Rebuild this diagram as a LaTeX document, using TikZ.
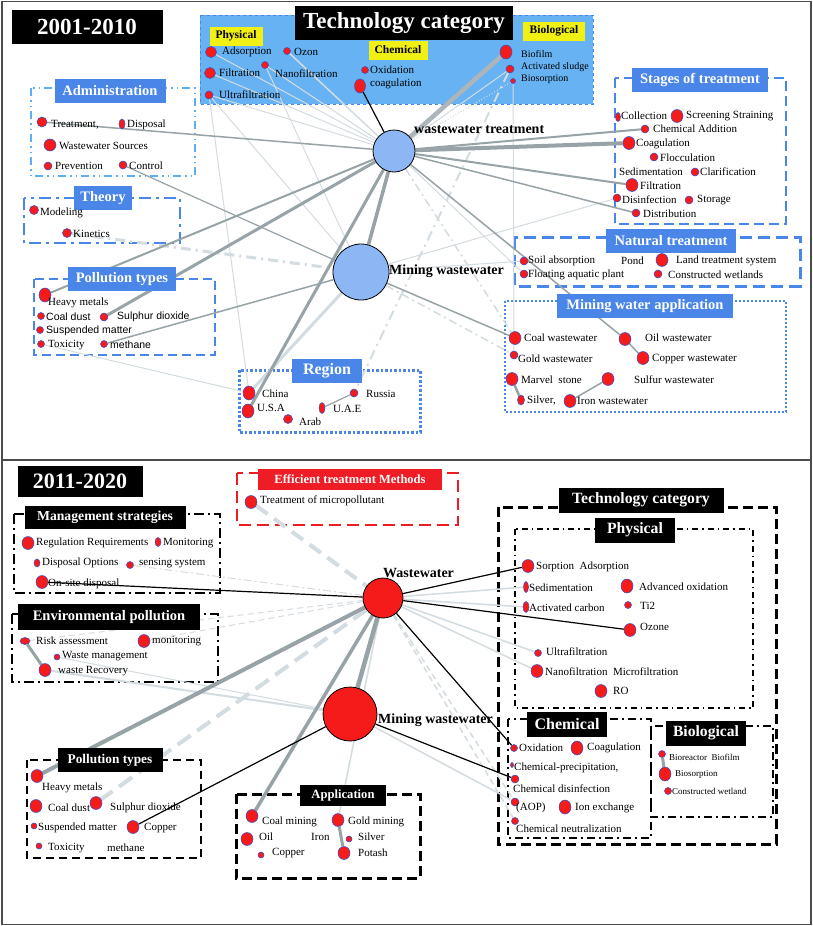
\documentclass[tikz,border=0pt]{standalone}
\usepackage{fontspec}
\setmainfont{Liberation Serif}
\newfontfamily\sansfam{Liberation Sans}
\usetikzlibrary{shapes.geometric,positioning}
\definecolor{dotred}{HTML}{F51B1B}
\definecolor{dotblue}{HTML}{3050D0}
\definecolor{titleblue}{HTML}{4A86E8}
\definecolor{techfill}{HTML}{66B2F2}
\definecolor{nodeblue}{HTML}{8DB6F5}
\definecolor{edgegray}{HTML}{97A3A7}
\definecolor{edgelight}{HTML}{D3DCE0}
\definecolor{markyellow}{HTML}{F0F014}
\definecolor{adminblue}{HTML}{5EAEF2}
\definecolor{efficientred}{HTML}{EE1C24}
\pgfdeclarelayer{boxes}
\pgfdeclarelayer{edges}
\pgfsetlayers{boxes,edges,main}
\tikzset{
  rdot/.style={circle, draw=dotblue, line width=0.5pt, fill=dotred, inner sep=0pt, minimum size=#1},
  edot/.style 2 args={ellipse, draw=dotblue, line width=0.5pt, fill=dotred, inner sep=0pt, minimum width=#1, minimum height=#2},
  lbl/.style={anchor=west, inner sep=0pt, font=\fontsize{11}{12}\selectfont},
  slbl/.style={anchor=west, inner sep=0pt, font=\sansfam\fontsize{10.5}{12}\selectfont},
  smalllbl/.style={anchor=west, inner sep=0pt, font=\fontsize{10}{11}\selectfont},
  bluetitle/.style={fill=titleblue, text=white, inner sep=0pt, minimum height=24pt, font=\bfseries\fontsize{14.5}{16}\selectfont},
  blacktitle/.style={fill=black, text=white, inner sep=0pt, minimum height=24pt, font=\bfseries\fontsize{14.5}{16}\selectfont},
  yellowtag/.style={fill=markyellow, inner sep=0pt, minimum height=19pt, font=\bfseries\fontsize{11.5}{12}\selectfont},
  hubblue/.style={circle, draw=black, line width=0.8pt, fill=nodeblue, inner sep=0pt, minimum size=#1},
  hubred/.style={circle, draw=black, line width=0.8pt, fill=dotred, inner sep=0pt, minimum size=#1},
  hublbl/.style={anchor=west, inner sep=0pt, font=\bfseries\fontsize{14}{15}\selectfont},
  grayedge/.style={draw=edgegray, line width=#1},
  faintedge/.style={draw=edgelight, line width=#1},
  blackedge/.style={draw=black, line width=1.2pt},
}
\begin{document}
\begin{tikzpicture}[x=1pt,y=-1pt]
\useasboundingbox (0,0) rectangle (813,926);
\begin{pgfonlayer}{boxes}
\fill[white] (0,0) rectangle (813,926);
\end{pgfonlayer}
\draw[gray!60!black, line width=1.2pt] (2,1.5) rectangle (811,924.5);
\draw[gray!60!black, line width=1.2pt] (2,460) -- (811,460);

% ---------------- 2001-2010 ----------------
\node (period1) at (87,27) [blacktitle, minimum width=151pt, minimum height=34pt, font=\bfseries\fontsize{23}{24}\selectfont] {2001-2010};

\node (techtitle) at (404,23) [blacktitle, minimum width=218pt, minimum height=34pt, font=\bfseries\fontsize{23}{24}\selectfont] {Technology category};
\node (physTag) at (236,36) [yellowtag, minimum width=53pt] {Physical};
\node (chemTag) at (398,50) [yellowtag, minimum width=59pt] {Chemical};
\node (bioTag) at (554,31) [yellowtag, minimum width=62pt] {Biological};

\node (adsorp) at (211,52) [rdot=11pt] {};
\node at (222,52) [lbl] {Adsorption};
\node (ozon) at (287,51) [rdot=7pt] {};
\node at (294,52) [lbl] {Ozon};
\node (filtr) at (210,73) [rdot=11pt] {};
\node at (219,73) [lbl] {Filtration};
\node (nanof) at (265,65) [rdot=7pt] {};
\node at (275,74) [lbl] {Nanofiltration};
\node (ultraf) at (209,95) [rdot=8pt] {};
\node at (219,95) [lbl] {Ultrafiltration};
\node (oxid) at (365,70) [rdot=7pt] {};
\node at (370,70) [lbl] {Oxidation};
\node (coag) at (360,86) [edot={11pt}{14pt}] {};
\node at (370,84) [lbl] {coagulation};
\node (biofilm) at (506,52) [edot={12pt}{14pt}] {};
\node at (521,54) [smalllbl] {Biofilm};
\node (actsl) at (510,69) [rdot=8pt] {};
\node at (521,67) [smalllbl] {Activated sludge};
\node (biosorp) at (513,81) [rdot=5pt] {};
\node at (521,79) [smalllbl] {Biosorption};

\node (wt) at (394,151) [hubblue=42pt] {};
\node at (414,130) [hublbl] {wastewater treatment};
\node (mw) at (361,272) [hubblue=56pt] {};
\node at (389,271) [hublbl] {Mining wastewater};

\node (adminTitle) at (110,91) [bluetitle, minimum width=111pt] {Administration};
\node (treat) at (42,122) [rdot=10pt] {};
\node at (51,125) [lbl] {Treatment,};
\node (dispos) at (122,124) [edot={6pt}{10pt}] {};
\node at (127,125) [lbl] {Disposal};
\node (wwsrc) at (50,145) [rdot=12pt] {};
\node at (59,146) [lbl] {Wastewater Sources};
\node (prev) at (48,166) [rdot=8pt] {};
\node at (55,166) [lbl] {Prevention};
\node (contr) at (123,165) [rdot=8pt] {};
\node at (129,166) [lbl] {Control};

\node (theoryTitle) at (103,198) [bluetitle, minimum width=58pt] {Theory};
\node (model) at (34,210) [rdot=9pt] {};
\node at (40,213) [lbl] {Modeling};
\node (kinet) at (67,233) [rdot=9pt] {};
\node at (73,234) [lbl] {Kinetics};

\node (pollTitle) at (122,279) [bluetitle, minimum width=108pt] {Pollution types};
\node (heavy) at (45,295) [edot={12pt}{14pt}] {};
\node at (48,303) [lbl] {Heavy metals};
\node (coald) at (41,316) [rdot=7pt] {};
\node at (46,317) [slbl] {Coal dust};
\node (sulph) at (104,317) [rdot=8pt] {};
\node at (117,317) [slbl] {Sulphur dioxide};
\node (susp) at (40,330) [rdot=7pt] {};
\node at (46,331) [slbl] {Suspended matter};
\node (toxic) at (41,344) [rdot=7pt] {};
\node at (48,345) [lbl] {Toxicity};
\node (methane) at (104,344) [rdot=7pt] {};
\node at (110,345) [slbl] {methane};

\node (regionTitle) at (327,371) [bluetitle, minimum width=70pt, font=\bfseries\fontsize{16}{17}\selectfont] {Region};
\node (china) at (249,393) [edot={12pt}{14pt}] {};
\node at (262,394) [lbl] {China};
\node (usa) at (248,411) [edot={12pt}{14pt}] {};
\node at (257,408) [lbl] {U.S.A};
\node (arab) at (288,419) [rdot=9pt] {};
\node at (299,422) [lbl] {Arab};
\node (uae) at (322,408) [edot={6pt}{11pt}] {};
\node at (333,409) [lbl] {U.A.E};
\node (russia) at (354,393) [rdot=8pt] {};
\node at (366,394) [lbl] {Russia};

\node (stagesTitle) at (700,80) [bluetitle, minimum width=136pt] {Stages of treatment};
\node (collect) at (618,117) [edot={5pt}{9pt}] {};
\node at (621,116) [lbl] {Collection};
\node (screen) at (677,116) [edot={12pt}{13pt}] {};
\node at (686,116) [lbl] {Screening Straining};
\node (chemadd) at (645,129) [rdot=8pt] {};
\node at (653,129) [lbl] {Chemical Addition};
\node (coagS) at (629,143) [edot={12pt}{13pt}] {};
\node at (636,144) [lbl] {Coagulation};
\node (flocc) at (654,157) [rdot=8pt] {};
\node at (660,158) [lbl] {Flocculation};
\node at (619,172) [lbl] {Sedimentation};
\node (clarif) at (695,172) [rdot=8pt] {};
\node at (700,172) [lbl] {Clarification};
\node (filtS) at (632,185) [edot={12pt}{13pt}] {};
\node at (640,186) [lbl] {Filtration};
\node (disinf) at (617,198) [rdot=8pt] {};
\node at (622,200) [lbl] {Disinfection};
\node (storage) at (689,200) [rdot=8pt] {};
\node at (697,200) [lbl] {Storage};
\node (distrib) at (636,213) [rdot=8pt] {};
\node at (643,214) [lbl] {Distribution};

\node (naturalTitle) at (671,241) [bluetitle, minimum width=130pt] {Natural treatment};
\node (soil) at (524,261) [rdot=8pt] {};
\node at (528,261) [lbl] {Soil absorption};
\node at (621,261) [lbl] {Pond};
\node (land) at (662,260) [edot={12pt}{13pt}] {};
\node at (676,261) [lbl] {Land treatment system};
\node (float) at (524,274) [rdot=8pt] {};
\node at (528,275) [lbl] {Floating aquatic plant};
\node (constr) at (658,274) [rdot=8pt] {};
\node at (668,275) [lbl] {Constructed wetlands};

\node (appTitle) at (645,306) [bluetitle, minimum width=176pt] {Mining water application};
\node (coalww) at (515,338) [edot={12pt}{13pt}] {};
\node at (524,338) [lbl] {Coal wastewater};
\node (oilww) at (625,339) [edot={12pt}{13pt}] {};
\node at (645,338) [lbl] {Oil wastewater};
\node (goldww) at (514,355) [rdot=8pt] {};
\node at (518,359) [lbl] {Gold wastewater};
\node (copww) at (643,358) [edot={12pt}{13pt}] {};
\node at (652,359) [lbl] {Copper wastewater};
\node (marvel) at (512,379) [edot={12pt}{13pt}] {};
\node at (521,380) [lbl] {Marvel\ \ stone};
\node (sulfww) at (608,379) [edot={12pt}{13pt}] {};
\node at (634,380) [lbl] {Sulfur wastewater};
\node (silver) at (521,400) [edot={7pt}{10pt}] {};
\node at (527,401) [lbl] {Silver,};
\node (ironww) at (570,401) [edot={12pt}{13pt}] {};
\node at (577,401) [lbl] {Iron wastewater};

\begin{pgfonlayer}{boxes}
\draw[titleblue, fill=techfill, dashed, line width=0.8pt] (200,15) rectangle (593,104);
\draw[adminblue, line width=1.8pt, dash pattern=on 8pt off 4pt on 1.5pt off 4pt on 1.5pt off 4pt] (31,88) rectangle (195,176);
\draw[titleblue, line width=2.5pt, dash pattern=on 12pt off 5pt on 3pt off 5pt] (24,198) rectangle (180,243);
\draw[titleblue, line width=1.5pt, dash pattern=on 9pt off 5pt] (34,279) rectangle (215,355);
\draw[titleblue, line width=3pt, dash pattern=on 2.5pt off 2pt] (239,370) rectangle (420,432);
\draw[titleblue, line width=1.5pt, dash pattern=on 10pt off 5pt] (615,78) rectangle (786,224);
\draw[titleblue, line width=3pt, dash pattern=on 12pt off 6pt] (514,237) rectangle (800,286);
\draw[titleblue, line width=2pt, dash pattern=on 2pt off 2pt] (505,301) rectangle (786,412);
\end{pgfonlayer}

\begin{pgfonlayer}{edges}
\draw[faintedge=1pt] (adsorp) -- (wt);
\draw[faintedge=1.5pt] (ozon) -- (wt);
\draw[faintedge=1pt] (nanof) -- (wt);
\draw[faintedge=1pt] (filtr) -- (wt);
\draw[faintedge=1pt] (ultraf) -- (wt);
\draw[faintedge=1pt] (ultraf) -- (mw);
\draw[faintedge=1pt] (nanof) -- (mw);
\draw[faintedge=1pt] (ultraf) -- (china);
\draw[faintedge=1pt] (actsl) -- (wt);
\draw[faintedge=1pt, dotted] (biosorp) -- (wt);
\draw[faintedge=1pt] (biosorp) -- (goldww);
\draw[faintedge=2pt, dash pattern=on 10pt off 5pt on 2pt off 5pt] (actsl) -- (russia);
\draw[faintedge=1pt] (disinf) -- (mw);
\draw[faintedge=1pt] (soil) -- (mw);
\draw[faintedge=1pt] (toxic) -- (china);
\draw[faintedge=3pt, dash pattern=on 10pt off 5pt on 2pt off 5pt] (kinet) -- (mw);
\draw[faintedge=1.5pt, dash pattern=on 8pt off 4pt on 2pt off 4pt] (mw) -- (goldww);
\draw[faintedge=1.5pt, dash pattern=on 8pt off 4pt on 2pt off 4pt] (wt) -- (coalww);
\draw[faintedge=1pt] (wt) -- (float);
\draw[faintedge=3pt] (china) -- (mw);
\draw[grayedge=4.5pt, draw=edgegray!80] (wt) -- (biofilm);
\draw[blackedge] (wt) -- (coag);
\draw[grayedge=1.5pt] (wt) -- (treat);
\draw[grayedge=2pt] (wt) -- (chemadd);
\draw[grayedge=4pt] (wt) -- (coagS);
\draw[grayedge=2pt] (wt) -- (filtS);
\draw[grayedge=1.5pt] (wt) -- (distrib);
\draw[grayedge=3.5pt] (wt) -- (mw);
\draw[grayedge=2pt] (wt) -- (heavy);
\draw[grayedge=3pt] (wt) -- (sulph);
\draw[grayedge=3pt] (wt) -- (usa);
\draw[grayedge=1.5pt] (wt) -- (oilww);
\draw[grayedge=1.5pt] (mw) -- (coalww);
\draw[grayedge=1.5pt] (mw) -- (methane);
\draw[grayedge=1.2pt] (mw) -- (contr);
\draw[grayedge=1.5pt] (oilww) -- (copww);
\draw[grayedge=2.5pt] (marvel) -- (silver);
\draw[grayedge=1.5pt] (sulfww) -- (ironww);
\draw[grayedge=1.2pt] (uae) -- (russia);
\end{pgfonlayer}

% ---------------- 2011-2020 ----------------
\node (period2) at (80,481) [blacktitle, minimum width=125pt, minimum height=31pt, font=\bfseries\fontsize{22}{23}\selectfont] {2011-2020};

\node (ww) at (383,598) [hubred=40pt] {};
\node at (383,573) [hublbl] {Wastewater};
\node (mw2) at (350,714) [hubred=54pt] {};
\node at (378,720) [hublbl] {Mining wastewater};

\node (mgmtTitle) at (105,517) [blacktitle, minimum width=161pt, minimum height=23pt, font=\bfseries\fontsize{13.7}{15}\selectfont] {Management strategies};
\node (regul) at (28,543) [edot={12pt}{13pt}] {};
\node at (36,543) [lbl] {Regulation Requirements};
\node (monit) at (158,542) [edot={6pt}{9pt}] {};
\node at (163,543) [lbl] {Monitoring};
\node (dispop) at (37,563) [edot={6pt}{8pt}] {};
\node at (42,563) [lbl] {Disposal Options};
\node (sensing) at (130,565) [rdot=7pt] {};
\node at (139,563) [lbl] {sensing system};
\node (onsite) at (42,582) [edot={12pt}{13pt}] {};
\node at (48,584) [lbl] {On-site disposal};

\node (envTitle) at (109,617) [blacktitle, minimum width=182pt, minimum height=26pt] {Environmental pollution};
\node (risk) at (25,641) [edot={10pt}{7pt}] {};
\node at (36,641) [lbl] {Risk assessment};
\node (monit2) at (144,641) [edot={12pt}{13pt}] {};
\node at (152,641) [lbl] {monitoring};
\node (wastem) at (57,657) [rdot=6pt] {};
\node at (62,656) [lbl] {Waste management};
\node (wasterec) at (45,670) [edot={12pt}{13pt}] {};
\node at (58,671) [lbl] {waste Recovery};

\node (effTitle) at (350,479) [fill=efficientred, text=white, inner sep=0pt, minimum width=184pt, minimum height=21pt, font=\bfseries\fontsize{12.5}{13}\selectfont] {Efficient treatment Methods};
\node (micro) at (251,502) [edot={12pt}{13pt}] {};
\node at (260,501) [lbl] {Treatment of micropollutant};

\node (tech2Title) at (641,500) [blacktitle, minimum width=165pt, minimum height=25pt, font=\bfseries\fontsize{15.7}{17}\selectfont] {Technology category};
\node (phys2Title) at (635,530) [blacktitle, minimum width=80pt, minimum height=25pt, font=\bfseries\fontsize{15.7}{17}\selectfont] {Physical};
\node (sorp) at (528,566) [edot={12pt}{13pt}] {};
\node at (536,567) [lbl] {Sorption\ \ Adsorption};
\node (sedim) at (526,587) [edot={5pt}{11pt}] {};
\node at (529,588) [lbl] {Sedimentation};
\node (advox) at (627,586) [edot={12pt}{14pt}] {};
\node at (639,587) [lbl] {Advanced oxidation};
\node (actcarb) at (526,607) [edot={6pt}{11pt}] {};
\node at (529,608) [lbl] {Activated carbon};
\node (ti2) at (628,605) [rdot=7pt] {};
\node at (640,606) [lbl] {Ti2};
\node (ozone) at (630,630) [edot={12pt}{13pt}] {};
\node at (640,627) [lbl] {Ozone};
\node (ultra2) at (538,653) [rdot=7pt] {};
\node at (546,652) [lbl] {Ultrafiltration};
\node (nano2) at (537,671) [edot={12pt}{13pt}] {};
\node at (545,672) [lbl] {Nanofiltration\ \ Microfiltration};
\node (ro) at (601,691) [edot={12pt}{13pt}] {};
\node at (613,691) [lbl] {RO};

\node (chem2Title) at (567,724) [blacktitle, minimum width=80pt, minimum height=25pt, font=\bfseries\fontsize{16}{17}\selectfont] {Chemical};
\node (oxid2) at (514,748) [rdot=7pt] {};
\node at (519,748) [lbl] {Oxidation};
\node (coag2) at (577,748) [edot={12pt}{14pt}] {};
\node at (587,748) [lbl] {Coagulation};
\node (precip) at (512,765) [edot={3pt}{5pt}] {};
\node at (514,768) [lbl] {Chemical-precipitation,};
\node (disinf2) at (515,779) [rdot=8pt] {};
\node at (513,789) [lbl] {Chemical disinfection};
\node (aop) at (515,802) [rdot=8pt] {};
\node at (516,808) [lbl] {(AOP)};
\node (ionex) at (565,807) [edot={12pt}{14pt}] {};
\node at (575,808) [lbl] {Ion exchange};
\node (neutral) at (515,821) [rdot=7pt] {};
\node at (516,829) [lbl] {Chemical neutralization};

\node (bio2Title) at (706,733) [blacktitle, minimum width=80pt, minimum height=25pt, font=\bfseries\fontsize{15.6}{17}\selectfont] {Biological};
\node (biorea) at (662,754) [rdot=7pt] {};
\node at (669,757) [smalllbl, font=\fontsize{9}{10}\selectfont] {Bioreactor\ \ Biofilm};
\node (biosor2) at (665,774) [edot={12pt}{14pt}] {};
\node at (675,774) [smalllbl, font=\fontsize{9}{10}\selectfont] {Biosorption};
\node (conwet) at (668,791) [rdot=7pt] {};
\node at (672,791) [smalllbl, font=\fontsize{9}{10}\selectfont] {Constructed wetland};

\node (poll2Title) at (110,760) [blacktitle, minimum width=105pt, minimum height=24pt, font=\bfseries\fontsize{13.3}{15}\selectfont] {Pollution types};
\node (heavy2) at (37,776) [edot={12pt}{13pt}] {};
\node at (42,788) [lbl] {Heavy metals};
\node (coal2) at (36,806) [edot={12pt}{13pt}] {};
\node at (48,808) [lbl] {Coal dust};
\node (sulph2) at (96,803) [edot={12pt}{13pt}] {};
\node at (110,808) [lbl] {Sulphur dioxide};
\node (susp2) at (34,826) [rdot=6pt] {};
\node at (38,828) [lbl] {Suspended matter};
\node (copper2) at (133,827) [edot={12pt}{13pt}] {};
\node at (144,828) [lbl] {Copper};
\node (toxic2) at (39,846) [rdot=6pt] {};
\node at (48,848) [lbl] {Toxicity};
\node at (107,848) [lbl] {methane};

\node (appl2Title) at (343,795) [blacktitle, minimum width=86pt, minimum height=21pt, font=\bfseries\fontsize{12.6}{14}\selectfont] {Application};
\node (coalm) at (252,816) [edot={12pt}{13pt}] {};
\node at (262,822) [lbl] {Coal mining};
\node (goldm) at (338,820) [edot={12pt}{13pt}] {};
\node at (348,822) [lbl] {Gold mining};
\node (oil2) at (247,839) [edot={12pt}{13pt}] {};
\node at (259,837) [lbl] {Oil};
\node at (311,837) [lbl] {Iron};
\node (silver2) at (349,839) [rdot=6pt] {};
\node at (358,837) [lbl] {Silver};
\node (copper3) at (261,855) [rdot=6pt] {};
\node at (272,853) [lbl] {Copper};
\node (potash) at (344,853) [edot={12pt}{13pt}] {};
\node at (358,853) [lbl] {Potash};

\begin{pgfonlayer}{boxes}
\draw[black, line width=1.8pt, dash pattern=on 10pt off 4pt on 2pt off 4pt] (14,514) rectangle (220,593);
\draw[black, line width=1.8pt, dash pattern=on 10pt off 4pt on 2pt off 4pt] (12,614) rectangle (218,682);
\draw[efficientred, line width=2.5pt, dash pattern=on 12pt off 6pt] (237,473) rectangle (458,525);
\draw[black, line width=3pt, dash pattern=on 10pt off 5pt] (498,507) rectangle (776,844);
\draw[black, line width=1.3pt, dash pattern=on 6pt off 4pt on 1.5pt off 4pt] (515,529) rectangle (753,708);
\draw[black, line width=1.8pt, dash pattern=on 8pt off 4pt on 2pt off 4pt] (508,719) rectangle (651,838);
\draw[black, line width=1.8pt, dash pattern=on 8pt off 4pt on 2pt off 4pt] (651,726) rectangle (773,817);
\draw[black, line width=1.8pt, dash pattern=on 8pt off 5pt] (27,760) rectangle (201,858);
\draw[black, line width=3pt, dash pattern=on 10pt off 5pt] (236,794) rectangle (420,878);
\end{pgfonlayer}

\begin{pgfonlayer}{edges}
\draw[faintedge=4pt, dash pattern=on 14pt off 8pt] (micro) -- (ww);
\draw[faintedge=4pt, dash pattern=on 16pt off 8pt] (ww) -- (sulph2);
\draw[faintedge=1pt, dash pattern=on 8pt off 3pt on 2pt off 3pt] (ww) -- (sensing);
\draw[faintedge=1pt, dash pattern=on 6pt off 4pt] (ww) -- (risk);
\draw[faintedge=1pt, dash pattern=on 6pt off 4pt] (ww) -- (monit2);
\draw[faintedge=2pt] (mw2) -- (wasterec);
\draw[faintedge=1pt] (mw2) -- (wastem);
\draw[faintedge=1.5pt] (ww) -- (sedim);
\draw[faintedge=1.5pt] (ww) -- (actcarb);
\draw[faintedge=1.5pt] (ww) -- (ultra2);
\draw[faintedge=1.5pt] (ww) -- (nano2);
\draw[faintedge=1.5pt, dash pattern=on 6pt off 4pt] (ww) -- (aop);
\draw[faintedge=1.5pt, dash pattern=on 6pt off 4pt] (ww) -- (neutral);
\draw[faintedge=1.5pt] (mw2) -- (aop);
\draw[faintedge=1.5pt] (ww) -- (goldm);
\draw[grayedge=4pt] (ww) -- (heavy2);
\draw[grayedge=3.5pt] (ww) -- (coalm);
\draw[grayedge=4.5pt] (ww) -- (mw2);
\draw[grayedge=3pt] (goldm) -- (potash);
\draw[grayedge=3pt] (risk) -- (wasterec);
\draw[grayedge=3pt] (biorea) -- (biosor2);
\draw[blackedge] (ww) -- (onsite);
\draw[blackedge] (ww) -- (sorp);
\draw[blackedge] (ww) -- (ozone);
\draw[blackedge] (ww) -- (oxid2);
\draw[blackedge] (mw2) -- (copper2);
\draw[blackedge] (mw2) -- (disinf2);
\end{pgfonlayer}
\end{tikzpicture}
\end{document}
